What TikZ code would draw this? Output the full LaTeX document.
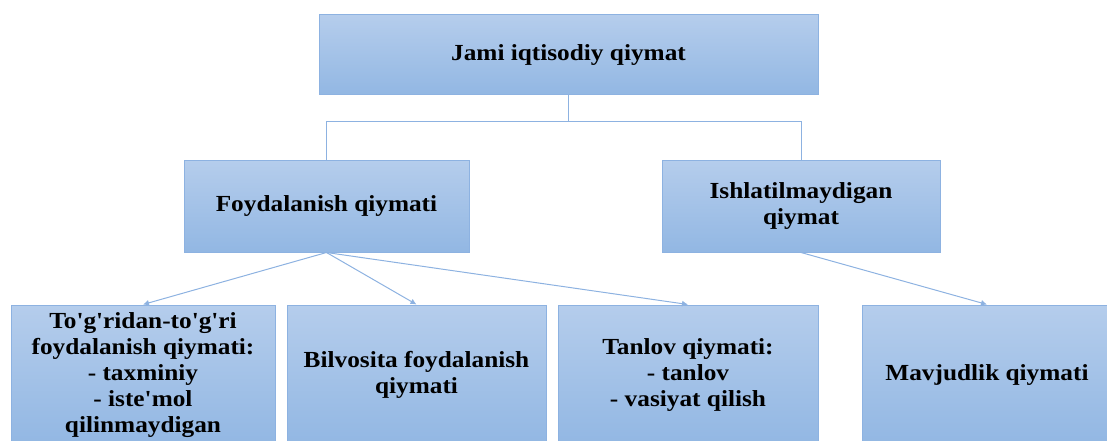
\documentclass[tikz,border=0pt]{standalone}
\usepackage{fontspec}
\setmainfont{Liberation Serif}[FakeStretch=1.1,Ligatures=TeXOff]
\usetikzlibrary{arrows.meta,positioning}
\definecolor{boxtop}{RGB}{181,205,236}
\definecolor{boxbot}{RGB}{146,183,227}
\definecolor{boxedge}{RGB}{141,178,225}
\tikzset{%
      valbox/.style = { draw=boxedge, line width=1pt, top color=boxtop, bottom color=boxbot,
                        inner sep=0pt, align=center, font=\fontsize{23}{26}\selectfont\bfseries },
      topbox/.style = { valbox, minimum width=499pt, minimum height=80pt },
      midbox/.style = { valbox, minimum height=92pt },
      lowbox/.style = { valbox, minimum height=140pt },
        link/.style = { draw=boxedge, line width=1pt },
       arrow/.style = { link, -{Latex[length=6pt,width=6pt]} }
}

\begin{document}
\begin{tikzpicture}[x=1pt,y=-1pt]
  \useasboundingbox (0,0) rectangle (1107,441);
  \clip (0,0) rectangle (1107,441);

  \node[topbox] (jami) at (568.5,55) {Jami iqtisodiy qiymat};
  \node[midbox, minimum width=285pt] (foyd) at (326.5,206) {Foydalanish qiymati};
  \node[midbox, minimum width=278pt] (ishl) at (801,206) {Ishlatilmaydigan\\ qiymat};

  \node[lowbox, minimum width=264pt] (togri) at (143,375)
    {To'g'ridan-to'g'ri\\ foydalanish qiymati:\\ - taxminiy\\ - iste'mol\\ qilinmaydigan};
  \node[lowbox, minimum width=259pt] (bilv) at (416.5,375) {Bilvosita foydalanish\\ qiymati};
  \node[lowbox, minimum width=260pt] (tanlov) at (688,375) {Tanlov qiymati:\\ - tanlov\\ - vasiyat qilish};
  \node[lowbox, minimum width=250pt] (mavj) at (987,375) {Mavjudlik qiymati};

  % tree lines
  \draw[link] (jami.south) -- ++(0,26) -| (foyd.north);
  \draw[link] (jami.south) ++(0,26) -| (ishl.north);

  % arrows
  \draw[arrow] (foyd.south) -- (togri.north);
  \draw[arrow] (foyd.south) -- (bilv.north);
  \draw[arrow] (foyd.south) -- (tanlov.north);
  \draw[arrow] (ishl.south) -- (mavj.north);
\end{tikzpicture}
\end{document}
